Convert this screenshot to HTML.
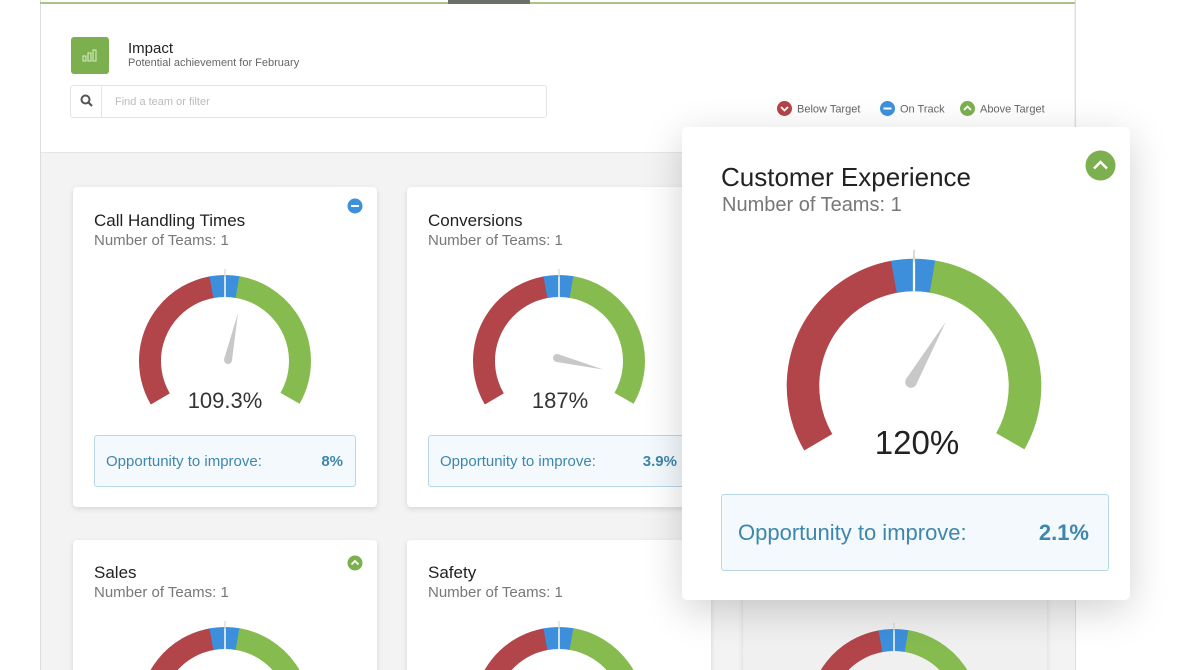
<!DOCTYPE html>
<html><head><meta charset="utf-8"><style>
html,body{margin:0;width:1190px;height:670px;overflow:hidden}
body{background:#fff;font-family:"Liberation Sans",sans-serif;position:relative}
#w{position:absolute;left:0;top:0;width:1190px;height:670px;overflow:hidden}
.abs{position:absolute}
.card{position:absolute;background:#fff;border-radius:4px;box-shadow:0 2px 6px rgba(0,0,0,.12)}
.t{position:absolute;color:#222;font-size:17px}
.s{position:absolute;color:#777;font-size:15px}
.box{position:absolute;background:#f3f9fd;border:1px solid #b9d7e6;border-radius:3px;color:#3f86ac;font-size:15px}
</style></head><body><div id="w">
<div class="abs" style="left:40px;top:0;width:1034px;height:670px;background:#f3f3f3;border-left:1px solid #ddd;border-right:1px solid #ddd"></div>
<div class="abs" style="left:41px;top:0;width:1033px;height:152px;background:#fff;border-bottom:1px solid #e6e6e6"></div>
<div class="abs" style="left:40px;top:2px;width:1035px;height:2px;background:#a9c48a"></div>
<div class="abs" style="left:448px;top:0;width:82px;height:4px;background:#6b6f6a"></div>
<div class="abs" style="left:71px;top:37px;width:38px;height:37px;background:#7cb04e;border-radius:3px"></div>
<svg class="abs" style="left:82px;top:47px" width="16" height="16"><rect x="1" y="9" width="3" height="5" fill="none" stroke="#dbeec8"/><rect x="6" y="6" width="3" height="8" fill="none" stroke="#dbeec8"/><rect x="11" y="3" width="3" height="11" fill="none" stroke="#dbeec8"/></svg>
<div class="abs" style="left:128px;top:40px;font-size:15px;color:#222">Impact</div>
<div class="abs" style="left:128px;top:57px;font-size:11px;color:#666">Potential achievement for February</div>
<div class="abs" style="left:70px;top:85px;width:475px;height:31px;border:1px solid #e3e3e3;border-radius:3px;background:#fff"></div>
<div class="abs" style="left:101px;top:86px;width:1px;height:31px;background:#e6e6e6"></div>
<svg class="abs" style="left:80px;top:94px" width="14" height="14"><circle cx="5.5" cy="5.5" r="4" fill="none" stroke="#555" stroke-width="2"/><line x1="8.5" y1="8.5" x2="12" y2="12" stroke="#555" stroke-width="2.2"/></svg>
<div class="abs" style="left:115px;top:96px;font-size:11px;color:#bbb">Find a team or filter</div>
<svg class="abs" style="left:776px;top:100px" width="280" height="18">
<circle cx="8.5" cy="8.5" r="7.5" fill="#b2454a"/><path d="M5 7l3.5 3.5L12 7" stroke="#fff" stroke-width="1.8" fill="none"/>
<circle cx="111.5" cy="8.5" r="7.5" fill="#3d91da"/><line x1="107.5" y1="8.5" x2="115.5" y2="8.5" stroke="#fff" stroke-width="2"/>
<circle cx="191.5" cy="8.5" r="7.5" fill="#7cb04e"/><path d="M188 10l3.5-3.5L195 10" stroke="#fff" stroke-width="1.8" fill="none"/>
<text x="21" y="12.5" font-size="11" fill="#666" font-family="Liberation Sans">Below Target</text>
<text x="124" y="12.5" font-size="11" fill="#666" font-family="Liberation Sans">On Track</text>
<text x="204" y="12.5" font-size="11" fill="#666" font-family="Liberation Sans">Above Target</text>
</svg>

<svg width="0" height="0" style="position:absolute"><defs>
<g id="g">
<circle r="75" fill="none" stroke="#b2454a" stroke-width="22" pathLength="360" stroke-dasharray="110 250" transform="rotate(150)"/>
<circle r="75" fill="none" stroke="#3d8fdc" stroke-width="22" pathLength="360" stroke-dasharray="20 340" transform="rotate(260)"/>
<circle r="75" fill="none" stroke="#86bb50" stroke-width="22" pathLength="360" stroke-dasharray="110 250" transform="rotate(280)"/>
<line x1="0" y1="-90" x2="0" y2="-64" stroke="#fff" stroke-width="1.5"/>
<line x1="0" y1="-92" x2="0" y2="-84" stroke="#ccc" stroke-width="1"/>
</g>
<g id="n"><circle r="4" fill="#c8c8c8"/><polygon points="-4,0 4,0 0,-48" fill="#c8c8c8"/></g>
</defs></svg>

<div class="card" style="left:73px;top:187px;width:304px;height:320px"></div>
<div class="t" style="left:94px;top:211px">Call Handling Times</div>
<div class="s" style="left:94px;top:232px">Number of Teams: 1</div>
<svg class="abs" style="left:347px;top:198px" width="16" height="16"><circle cx="8" cy="8" r="7.5" fill="#3d91da"/><line x1="4" y1="8" x2="12" y2="8" stroke="#fff" stroke-width="2"/></svg>
<svg class="abs" style="left:0;top:0" width="1190" height="670">
<use href="#g" transform="translate(225 361)"/>
<use href="#n" transform="translate(228 360) rotate(12)"/>
</svg>
<div class="abs" style="left:150px;width:150px;text-align:center;top:388px;font-size:22px;color:#333">109.3%</div>
<div class="box" style="left:94px;top:435px;width:260px;height:50px"><span class="abs" style="left:11px;top:17px">Opportunity to improve:</span><span class="abs" style="right:12px;top:17px;font-weight:bold">8%</span></div>

<div class="card" style="left:407px;top:187px;width:304px;height:320px"></div>
<div class="t" style="left:428px;top:211px">Conversions</div>
<div class="s" style="left:428px;top:232px">Number of Teams: 1</div>
<svg class="abs" style="left:0;top:0" width="1190" height="670">
<use href="#g" transform="translate(559 361)"/>
<use href="#n" transform="translate(557 358) rotate(104)"/>
</svg>
<div class="abs" style="left:485px;width:150px;text-align:center;top:388px;font-size:22px;color:#333">187%</div>
<div class="box" style="left:428px;top:435px;width:260px;height:50px"><span class="abs" style="left:11px;top:17px">Opportunity to improve:</span><span class="abs" style="right:12px;top:17px;font-weight:bold">3.9%</span></div>

<div class="card" style="left:73px;top:540px;width:304px;height:140px"></div>
<div class="t" style="left:94px;top:563px">Sales</div>
<div class="s" style="left:94px;top:584px">Number of Teams: 1</div>
<svg class="abs" style="left:347px;top:555px" width="16" height="16"><circle cx="8" cy="8" r="7.5" fill="#7cb04e"/><path d="M4.5 9.5l3.5-3.5 3.5 3.5" stroke="#fff" stroke-width="1.8" fill="none"/></svg>
<div class="card" style="left:407px;top:540px;width:304px;height:140px"></div>
<div class="t" style="left:428px;top:563px">Safety</div>
<div class="s" style="left:428px;top:584px">Number of Teams: 1</div>
<div class="card" style="left:743px;top:560px;width:304px;height:140px;background:#f0f0f0"></div>
<svg class="abs" style="left:0;top:0" width="1190" height="670">
<use href="#g" transform="translate(225 713)"/>
<use href="#g" transform="translate(559 713)"/>
<use href="#g" transform="translate(894 715)"/>
</svg>

<div class="card" style="left:682px;top:127px;width:448px;height:473px;box-shadow:0 10px 40px rgba(0,0,0,.18);border-radius:5px"></div>
<div class="abs" style="left:721px;top:162px;font-size:26px;color:#222">Customer Experience</div>
<div class="abs" style="left:722px;top:194px;font-size:20px;color:#777">Number of Teams: 1</div>
<svg class="abs" style="left:1085px;top:150px" width="31" height="31"><circle cx="15.5" cy="15.5" r="15" fill="#7cb04e"/><path d="M9 18.5l6.5-6.5 6.5 6.5" stroke="#fff" stroke-width="2.5" fill="none"/></svg>
<svg class="abs" style="left:0;top:0" width="1190" height="670">
<use href="#g" transform="translate(914 386) scale(1.48)"/>
<use href="#n" transform="translate(911 382) rotate(30) scale(1.45)"/>
</svg>
<div class="abs" style="left:817px;width:200px;text-align:center;top:424px;font-size:33px;color:#222">120%</div>
<div class="box" style="left:721px;top:494px;width:386px;height:75px;font-size:22px"><span class="abs" style="left:16px;top:25px">Opportunity to improve:</span><span class="abs" style="right:19px;top:25px;font-weight:bold">2.1%</span></div>
</div></body></html>
